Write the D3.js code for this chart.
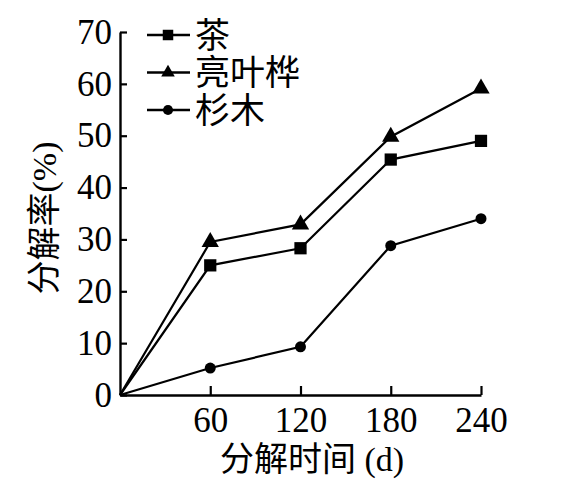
<!DOCTYPE html>
<html>
<head>
<meta charset="utf-8">
<script src="https://d3js.org/d3.v7.min.js"></script>
<style>
  body { margin: 0; background: #fff; }
</style>
</head>
<body>
<div id="chart"></div>
<script>

// data
var days = [0, 60, 120, 180, 240];
var tea = [0, 25.0, 28.3, 45.4, 49.0];
var birch = [0, 29.5, 32.9, 49.8, 59.1];
var fir = [0, 5.2, 9.3, 28.8, 34.0];
var seriesNames = ["茶", "亮叶桦", "杉木"];
var seriesShapes = [d3.symbolSquare, d3.symbolTriangle, d3.symbolCircle];
var xTicks = [60, 120, 180, 240];
var yTicks = [0, 10, 20, 30, 40, 50, 60, 70];

var width = 561, height = 484;
var serif = "'Liberation Serif', 'DejaVu Serif', serif";
var cjk = "'Noto Sans CJK SC', sans-serif";

var svg = d3.select("#chart")
  .append("svg")
    .attr("width", width)
    .attr("height", height);

var x = d3.scaleLinear().domain([0, 240]).range([120, 481]);
var y = d3.scaleLinear().domain([0, 70]).range([395, 32]);

// y axis, ticks pointing inwards
var yAxis = svg.append("g")
    .attr("transform", "translate(" + x(0) + ",0)")
    .call(d3.axisLeft(y).tickValues(yTicks).tickSize(-7).tickSizeOuter(0).tickPadding(8));

// x axis
var xAxis = svg.append("g")
    .attr("transform", "translate(0," + y(0) + ")")
    .call(d3.axisBottom(x).tickValues(xTicks).tickSize(-9).tickSizeOuter(0).tickPadding(12));

[xAxis, yAxis].forEach(function(g) {
  g.select(".domain").attr("stroke", "#000").attr("stroke-width", 2.4);
  g.selectAll(".tick line").attr("stroke", "#000").attr("stroke-width", 2.2);
  g.selectAll(".tick text")
    .attr("fill", "#000")
    .style("font-family", serif)
    .style("font-size", "35px");
});

// axis titles
svg.append("text")
    .attr("x", 312)
    .attr("y", 471)
    .attr("text-anchor", "middle")
    .style("font-family", cjk)
    .style("font-size", "34px")
    .html("分解时间<tspan style=\"font-family:" + serif + "\"> (d)</tspan>");

svg.append("text")
    .attr("transform", "translate(56,218) rotate(-90)")
    .attr("text-anchor", "middle")
    .style("font-family", cjk)
    .style("font-size", "34px")
    .html("分解率<tspan style=\"font-family:" + serif + "\">(%)</tspan>");

// lines and markers
var allSeries = [tea, birch, fir];
var line = d3.line()
  .x(function(d, i) { return x(days[i]); })
  .y(function(d) { return y(d); });

var markerSizes = [150, 130, 95];

allSeries.forEach(function(vals, s) {
  svg.append("path")
    .datum(vals)
    .attr("fill", "none")
    .attr("stroke", "#000")
    .attr("stroke-width", 2.2)
    .attr("d", line);

  svg.selectAll(".m" + s)
    .data(vals.slice(1))
    .enter().append("path")
      .attr("class", "m" + s)
      .attr("transform", function(d, i) { return "translate(" + x(days[i + 1]) + "," + y(d) + ")"; })
      .attr("d", d3.symbol().type(seriesShapes[s]).size(markerSizes[s]))
      .attr("fill", "#000");
});

// legend
var legend = svg.append("g").attr("transform", "translate(147,35)");
seriesNames.forEach(function(name, i) {
  var row = legend.append("g").attr("transform", "translate(0," + (i * 37.5) + ")");
  row.append("line")
    .attr("x1", 0).attr("x2", 43).attr("y1", 0).attr("y2", 0)
    .attr("stroke", "#000").attr("stroke-width", 2.4);
  row.append("path")
    .attr("transform", "translate(21,0)")
    .attr("d", d3.symbol().type(seriesShapes[i]).size(i == 0 ? 110 : 80))
    .attr("fill", "#000");
  row.append("text")
    .attr("x", 48)
    .attr("y", 0)
    .attr("dy", "0.36em")
    .style("font-family", cjk)
    .style("font-size", "35px")
    .text(name);
});

</script>
</body>
</html>
